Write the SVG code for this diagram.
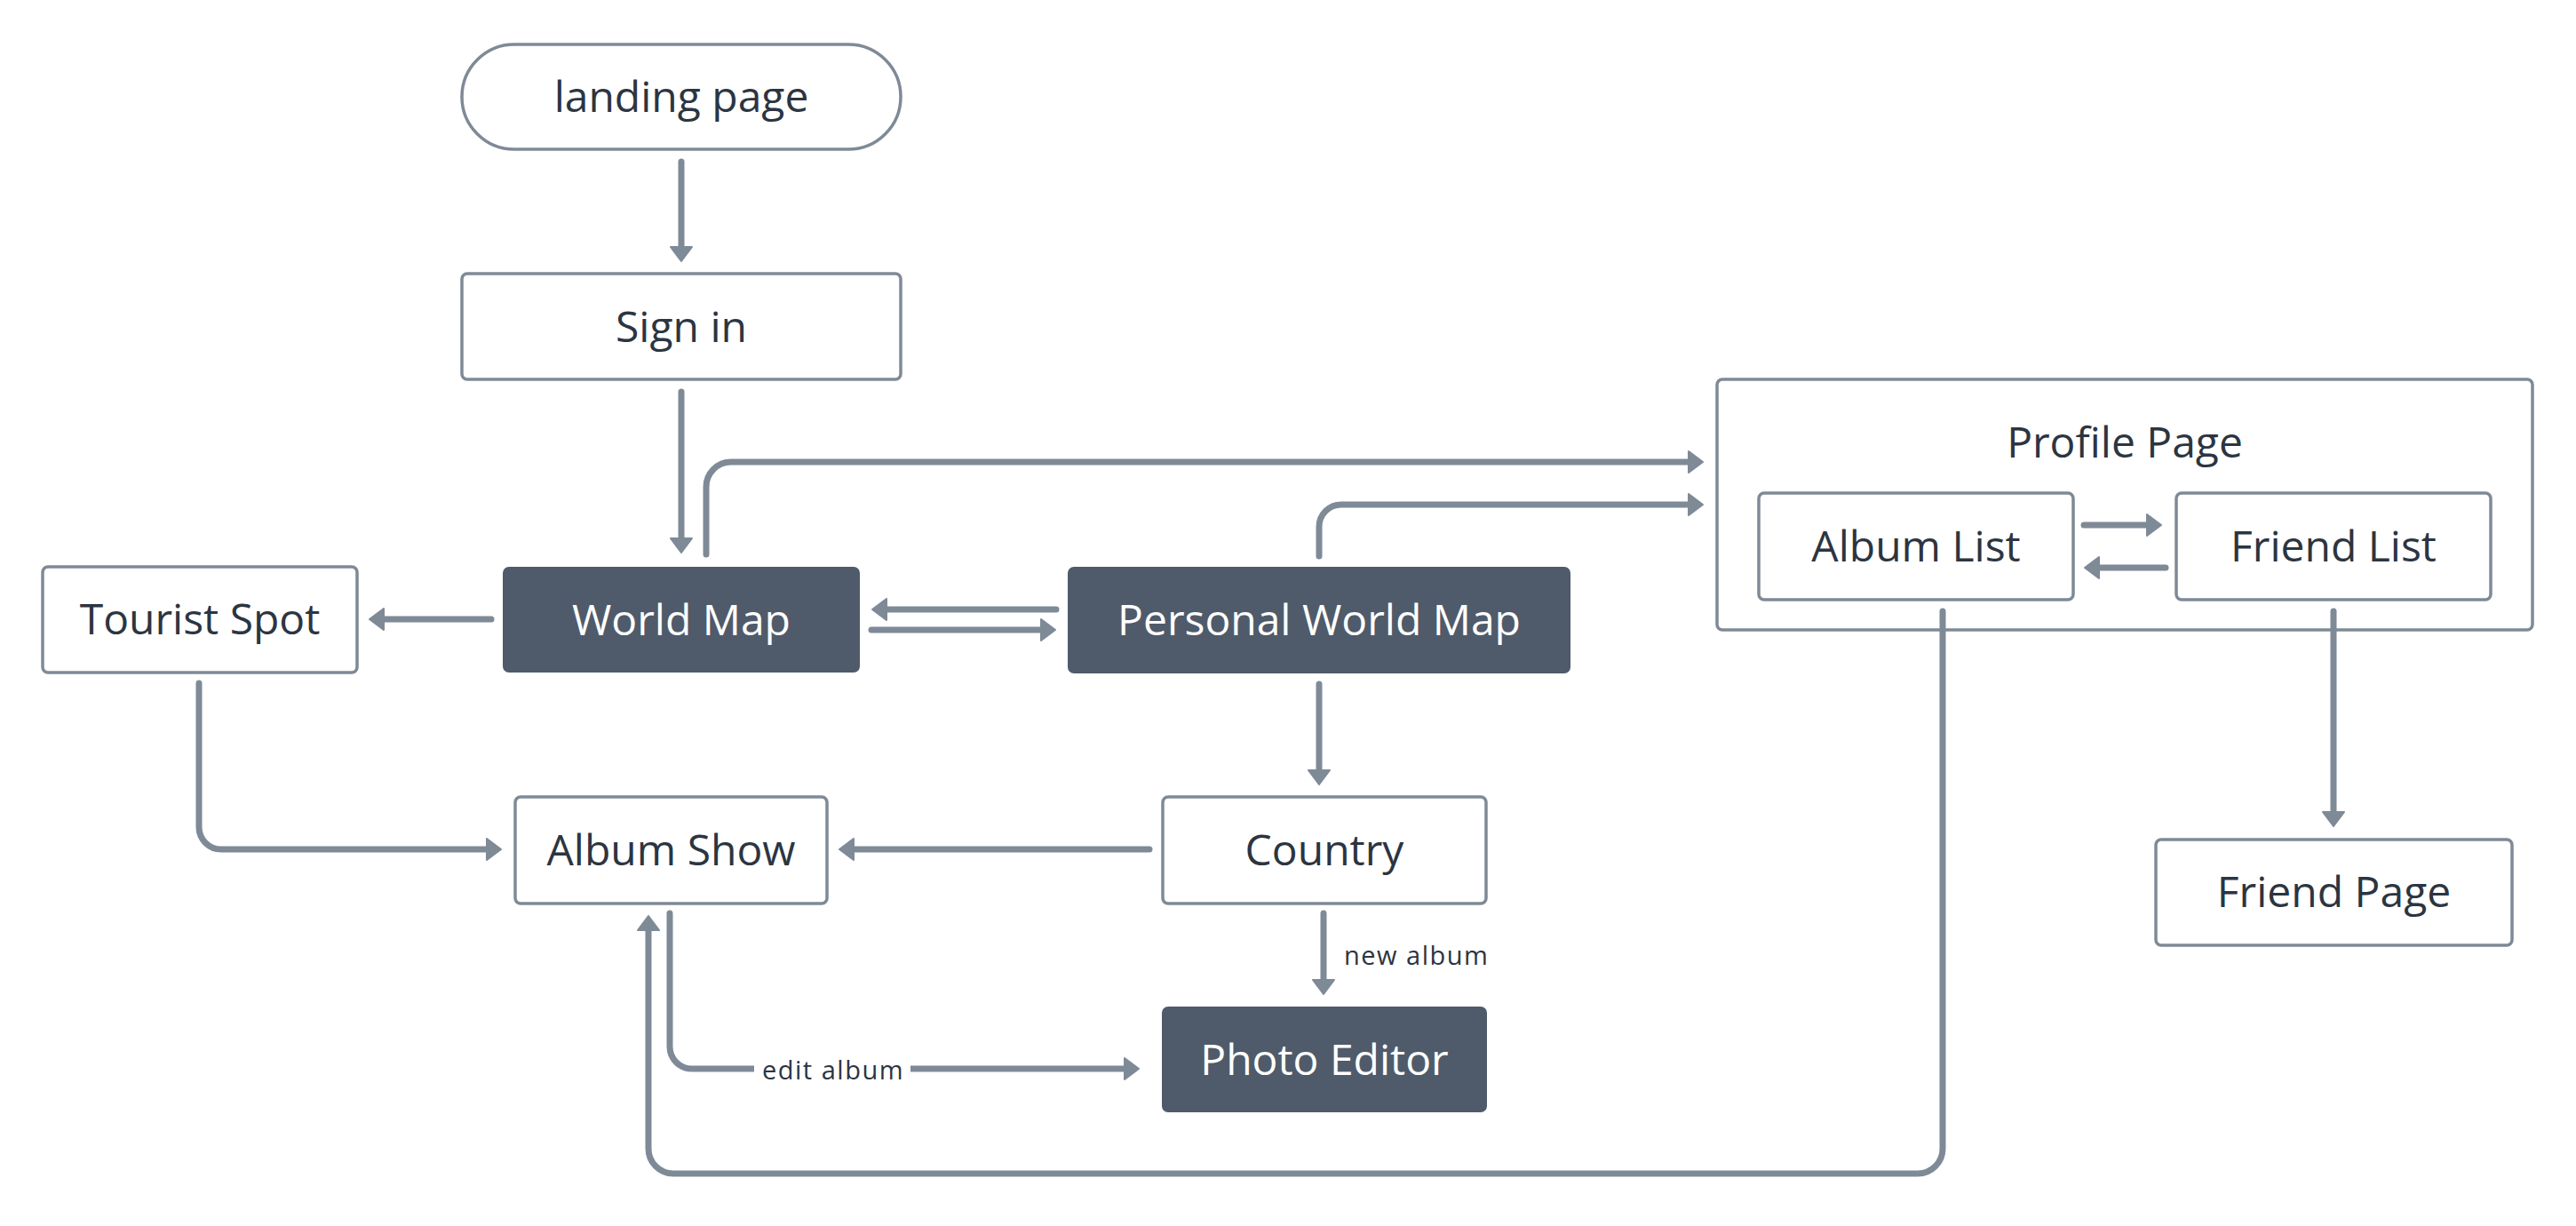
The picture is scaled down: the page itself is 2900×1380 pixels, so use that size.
<svg xmlns="http://www.w3.org/2000/svg" width="2900" height="1380" viewBox="0 0 2900 1380">
<defs>
<style>
.box{fill:#ffffff;stroke:#7f8a97;stroke-width:3.5}
.dark{fill:#4f5b6a;stroke:#4f5b6a;stroke-width:2}
.t{font-family:"Open Sans","Noto Sans","DejaVu Sans",sans-serif;font-size:48px;fill:#2c3541;text-anchor:middle}
.tw{fill:#ffffff}
.lbl{font-family:"Open Sans","Noto Sans","DejaVu Sans",sans-serif;font-size:29px;fill:#2c3541;letter-spacing:1.5px}
.c{fill:none;stroke:#7f8a97;stroke-width:7;stroke-linecap:round;stroke-linejoin:round;marker-end:url(#ah)}
</style>
<marker id="ah" viewBox="0 0 18 26" refX="8" refY="13" markerWidth="18" markerHeight="26" markerUnits="userSpaceOnUse" orient="auto">
<path d="M1,1 L17,13 L1,25 Z" fill="#7f8a97" stroke="#7f8a97" stroke-width="2" stroke-linejoin="round"/>
</marker>
</defs>
<rect width="2900" height="1380" fill="#ffffff"/>

<g id="node-landing">
<rect class="box" x="520" y="50" width="494" height="118" rx="59"/>
<text class="t" x="767" y="126">landing page</text>
</g>
<g id="node-signin">
<rect class="box" x="520" y="308" width="494" height="119" rx="6"/>
<text class="t" x="767" y="385">Sign in</text>
</g>
<g id="node-worldmap">
<rect class="dark" x="567" y="639" width="400" height="117" rx="6"/>
<text class="t tw" x="767" y="715">World Map</text>
</g>
<g id="node-tourist">
<rect class="box" x="48" y="638" width="354" height="119" rx="6"/>
<text class="t" x="225" y="714">Tourist Spot</text>
</g>
<g id="node-personal">
<rect class="dark" x="1203" y="639" width="564" height="118" rx="6"/>
<text class="t tw" x="1485" y="715">Personal World Map</text>
</g>
<g id="node-profile">
<rect class="box" x="1933" y="427" width="918" height="282" rx="6"/>
<text class="t" x="2392" y="515">Profile Page</text>
</g>
<g id="node-albumlist">
<rect class="box" x="1980" y="555" width="354" height="120" rx="6"/>
<text class="t" x="2157" y="632">Album List</text>
</g>
<g id="node-friendlist">
<rect class="box" x="2450" y="555" width="354" height="120" rx="6"/>
<text class="t" x="2627" y="632">Friend List</text>
</g>
<g id="node-friendpage">
<rect class="box" x="2427" y="945" width="401" height="119" rx="6"/>
<text class="t" x="2627.5" y="1021">Friend Page</text>
</g>
<g id="node-albumshow">
<rect class="box" x="580" y="897" width="351" height="120" rx="6"/>
<text class="t" x="755.5" y="974">Album Show</text>
</g>
<g id="node-country">
<rect class="box" x="1309" y="897" width="364" height="120" rx="6"/>
<text class="t" x="1491" y="974">Country</text>
</g>
<g id="node-photoeditor">
<rect class="dark" x="1309" y="1134" width="364" height="117" rx="6"/>
<text class="t tw" x="1491" y="1210">Photo Editor</text>
</g>

<g id="connectors">
<path class="c" d="M767,182 V285"/>
<path class="c" d="M767,441 V613"/>
<path class="c" d="M553,697 H425"/>
<path class="c" d="M795,624 V548 A28,28 0 0 1 823,520 H1908"/>
<path class="c" d="M1189,686 H991"/>
<path class="c" d="M981,709 H1179"/>
<path class="c" d="M1485,626 V593 A25,25 0 0 1 1510,568 H1908"/>
<path class="c" d="M1485,770 V874"/>
<path class="c" d="M224,769 V931 A25,25 0 0 0 249,956 H555"/>
<path class="c" d="M1294,956 H954"/>
<path class="c" d="M1490,1028 V1110"/>
<path class="c" d="M754,1028 V1178 A25,25 0 0 0 779,1203 H1273"/>
<path class="c" d="M2187,688 V1293 A28,28 0 0 1 2159,1321 H758 A28,28 0 0 1 730,1293 V1040"/>
<path class="c" d="M2346,591 H2424"/>
<path class="c" d="M2438,639 H2356"/>
<path class="c" d="M2627,688 V921"/>
<g id="label-edit-album">
<rect x="849" y="1183" width="176" height="40" fill="#ffffff"/>
<text class="lbl" x="938" y="1215" text-anchor="middle">edit album</text>
</g>
<text id="label-new-album" class="lbl" x="1513" y="1086">new album</text>
</g>
</svg>
